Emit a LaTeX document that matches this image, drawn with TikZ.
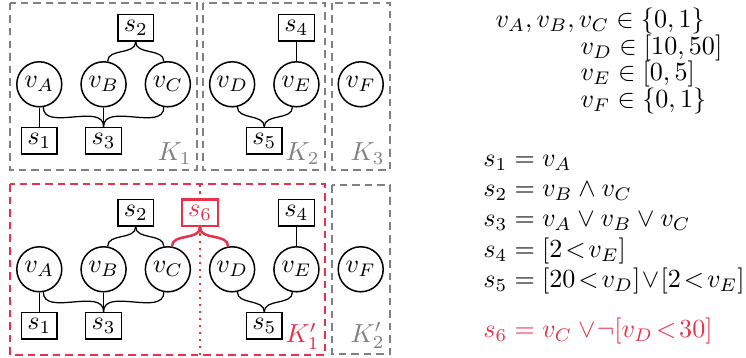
\RequirePackage{fix-cm}
\documentclass[tikz,border=0pt]{standalone}
\usepackage{amsmath}
\usepackage{amssymb}
\usepackage{xcolor}
\usepackage{tikz}
\usetikzlibrary{positioning}
\definecolor{GroupGray}{gray}{0.5}
\definecolor{SplitRed}{HTML}{E8314A}

\begin{document}
\begin{tikzpicture}[
  font=\fontsize{10.4}{12.5}\selectfont,
  var/.style={draw,circle,line width=0.6pt,fill=white,minimum size=0.63cm,inner sep=0pt},
  sig/.style={draw,rectangle,line width=0.6pt,fill=white,minimum width=0.5cm,minimum height=0.37cm,inner sep=1pt},
  splitsig/.style={sig,draw=SplitRed,line width=1pt,text=SplitRed},
  group/.style={draw=GroupGray,line width=0.8pt,dash pattern=on 3pt off 2pt},
  splitgroup/.style={group,draw=SplitRed},
  grouplabel/.style={anchor=south east,inner sep=2pt,text=GroupGray},
  link/.style={line width=0.5pt},
  splitlink/.style={draw=SplitRed,line width=1pt},
  eqn/.style={anchor=base west,inner sep=0pt},
]
  \useasboundingbox (0,0) rectangle (10.444,-5.012);

  % partition K_1, K_2, K_3
  \draw[group] (0.14,-0.04) rectangle (2.76,-2.38);
  \draw[group] (2.84,-0.04) rectangle (4.55,-2.38);
  \draw[group] (4.65,-0.04) rectangle (5.46,-2.38);
  \node[grouplabel] at (2.76,-2.38) {$K_1$};
  \node[grouplabel] at (4.55,-2.38) {$K_2$};
  \node[grouplabel] at (5.46,-2.38) {$K_3$};

  \node[sig] (s2) at (1.90,-0.39) {$s_2$};
  \node[sig] (s4) at (4.15,-0.39) {$s_4$};
  \node[var] (vA) at (0.55,-1.18) {$v_A$};
  \node[var] (vB) at (1.45,-1.18) {$v_B$};
  \node[var] (vC) at (2.35,-1.18) {$v_C$};
  \node[var] (vD) at (3.25,-1.18) {$v_D$};
  \node[var] (vE) at (4.15,-1.18) {$v_E$};
  \node[var] (vF) at (5.05,-1.18) {$v_F$};
  \node[sig] (s1) at (0.55,-1.97) {$s_1$};
  \node[sig] (s3) at (1.45,-1.97) {$s_3$};
  \node[sig] (s5) at (3.70,-1.97) {$s_5$};

  \draw[link] (s2.south) to[out=-90,in=90] (vB.80);
  \draw[link] (s2.south) to[out=-90,in=90] (vC.100);
  \draw[link] (s4) -- (vE);
  \draw[link] (vA) -- (s1);
  \draw[link] (vA.-80) to[out=-90,in=90] (s3.north);
  \draw[link] (vB) -- (s3);
  \draw[link] (vC.-100) to[out=-90,in=90] (s3.north);
  \draw[link] (vD.-77) to[out=-90,in=90] (s5.north);
  \draw[link] (vE.-100) to[out=-90,in=90] (s5.north);

  % partition K'_1, K'_2
  \draw[splitgroup] (0.14,-2.58) rectangle (4.55,-4.97);
  \draw[group] (4.65,-2.59) rectangle (5.46,-4.96);
  \draw[SplitRed,line width=0.9pt,dash pattern=on 0.9pt off 1.9pt] (2.80,-2.58) -- (2.80,-4.97);
  \node[grouplabel,text=SplitRed] at (4.55,-4.97) {$K'_1$};
  \node[grouplabel] at (5.46,-4.96) {$K'_2$};

  \node[sig] (s2p) at (1.90,-2.98) {$s_2$};
  \node[splitsig] (s6p) at (2.80,-2.98) {$s_6$};
  \node[sig] (s4p) at (4.15,-2.98) {$s_4$};
  \node[var] (vAp) at (0.55,-3.77) {$v_A$};
  \node[var] (vBp) at (1.45,-3.77) {$v_B$};
  \node[var] (vCp) at (2.35,-3.77) {$v_C$};
  \node[var] (vDp) at (3.25,-3.77) {$v_D$};
  \node[var] (vEp) at (4.15,-3.77) {$v_E$};
  \node[var] (vFp) at (5.05,-3.77) {$v_F$};
  \node[sig] (s1p) at (0.55,-4.56) {$s_1$};
  \node[sig] (s3p) at (1.45,-4.56) {$s_3$};
  \node[sig] (s5p) at (3.70,-4.56) {$s_5$};

  \draw[link] (s2p.south) to[out=-90,in=90] (vBp.80);
  \draw[link] (s2p.south) to[out=-90,in=90] (vCp.100);
  \draw[splitlink] (s6p.south) to[out=-90,in=90] (vCp.80);
  \draw[splitlink] (s6p.south) to[out=-90,in=90] (vDp.100);
  \draw[link] (s4p) -- (vEp);
  \draw[link] (vAp) -- (s1p);
  \draw[link] (vAp.-80) to[out=-90,in=90] (s3p.north);
  \draw[link] (vBp) -- (s3p);
  \draw[link] (vCp.-100) to[out=-90,in=90] (s3p.north);
  \draw[link] (vDp.-77) to[out=-90,in=90] (s5p.north);
  \draw[link] (vEp.-100) to[out=-90,in=90] (s5p.north);

  % domains
  \node[eqn] (domABC) at (6.93,-0.38) {$v_A, v_B, v_C \in \{0,1\}$};
  \node[eqn] (domD) at (8.12,-0.76) {$v_D \in [10,50]$};
  \node[eqn] (domE) at (8.12,-1.13) {$v_E \in [0,5]$};
  \node[eqn] (domF) at (8.12,-1.51) {$v_F \in \{0,1\}$};

  % signals
  \node[eqn] (def1) at (6.76,-2.33) {$s_1 = v_A$};
  \node[eqn] (def2) at (6.76,-2.75) {$s_2 = v_B \wedge v_C$};
  \node[eqn] (def3) at (6.76,-3.17) {$s_3 = v_A \vee v_B \vee v_C$};
  \node[eqn] (def4) at (6.76,-3.60) {$s_4 = [2\!<\!v_E]$};
  \node[eqn] (def5) at (6.76,-4.02) {$s_5 = [20\!<\!v_D]\!\vee\![2\!<\!v_E]$};
  \node[eqn,text=SplitRed] (def6) at (6.76,-4.72) {$s_6 = v_C \vee\!\neg[v_D\!<\!30]$};
\end{tikzpicture}
\end{document}
